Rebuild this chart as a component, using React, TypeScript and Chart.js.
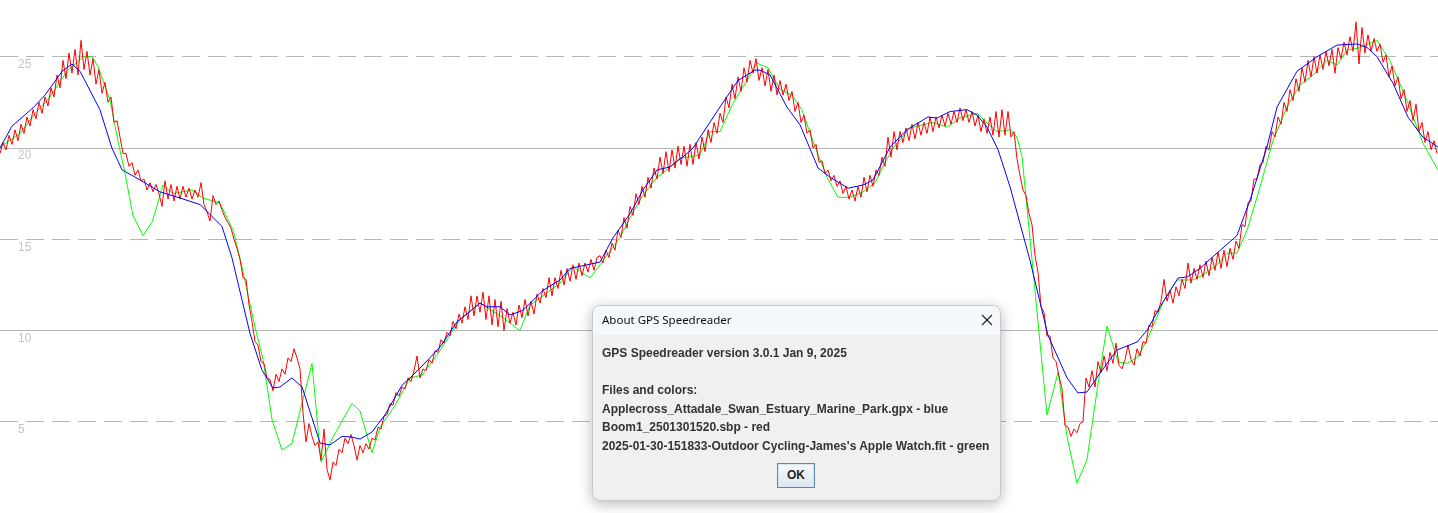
import React, { useEffect, useRef } from "react";
import { Chart, registerables } from "chart.js";

Chart.register(...registerables);

// ---- data -------------------------------------------------------------
// time axis in seconds, speed in knots
const X_MAX = 479.33;
const Y_MIN = 0;
const Y_MAX = 28.11;
const Y_TICKS = [5, 10, 15, 20, 25];

// Applecross_Attadale_Swan_Estuary_Marine_Park.gpx (blue)
const BLUE_T = [
  0, 4, 11, 15, 20.7, 24, 26.7, 33.3, 37.3, 40.7, 46.7, 53.3, 60, 66.7, 74, 77.3,
  83.3, 87.3, 91, 93.3, 97.3, 100.7, 106.7, 110, 114, 117.3, 120, 124, 128.3, 134,
  137.7, 143.3, 146.7, 152.3, 156, 160, 162.3, 166.7, 170, 174.3, 181, 186.7, 190,
  195.7, 200, 204.3, 210, 214.3, 219, 223.3, 229, 231, 240, 246, 251.7, 253.3, 256.7,
  262.3, 266.7, 272.7, 276.7, 282.7, 287.7, 291, 296.7, 302.3, 309.3, 312.3, 316.7,
  322.3, 325.7, 329, 332.7, 336.7, 343.3, 349.3, 355.7, 359.3, 362.3, 366.7, 372.3,
  379, 382.3, 386.7, 392.7, 395.7, 400, 403.3, 412.3, 416.7, 422.3, 425.7, 432.3, 439,
  445.7, 452.3, 455.7, 459, 464.3, 469.3, 474.3, 479.3,
];
const BLUE_V = [
  20.0, 21.2, 22.2, 22.9, 24.2, 24.6, 24.2, 22.1, 20.0, 18.8, 18.25, 17.6, 17.26, 16.9, 15.7, 14.0,
  9.86, 7.84, 6.85, 6.9, 7.4, 6.9, 3.83, 3.73, 4.2, 4.16, 4.05, 4.44, 5.37, 7.0,
  7.56, 8.5, 9.1, 10.47, 10.96, 11.5, 11.3, 11.3, 10.85, 11.1, 12.2, 12.77, 13.4,
  13.6, 13.75, 15.07, 16.4, 17.7, 18.8, 18.96, 19.7, 20.0, 22.25, 23.7, 24.27, 24.27, 24.0,
  22.25, 21.26, 18.9, 18.4, 17.8, 17.97, 18.25, 20.05, 21.0, 21.7, 21.64, 22.0,
  22.1, 21.8, 21.15, 19.9, 17.86, 13.86, 9.75, 7.4, 6.58, 6.63, 7.67, 8.93,
  9.37, 10.0, 11.3, 12.88, 12.93, 13.4, 13.9, 15.2, 17.15, 20.05, 22.25, 24.2, 25.0,
  25.64, 25.7, 25.5, 25.0, 23.56, 21.7, 20.6, 20.05,
];

// Boom1_2501301520.sbp (red) - one sample per second
const RED_V = [
  19.7, 20.3, 19.9, 20.7, 20.2, 21.0, 20.4, 21.3, 20.8, 21.7, 21.2, 22.1, 21.6, 22.5, 21.9, 22.8, 22.3, 23.3, 22.8, 24.0,
  23.3, 24.8, 23.8, 25.2, 24.1, 25.4, 24.0, 25.9, 24.3, 25.3, 24.0, 24.9, 23.5, 24.3, 23.0, 23.6, 22.5, 22.8, 21.4, 21.5,
  20.6, 19.7, 19.7, 19.0, 19.2, 18.5, 18.8, 18.2, 18.3, 17.7, 18.1, 17.6, 18.0, 17.5, 16.8, 18.2, 17.2, 18.0, 17.1, 17.9,
  17.2, 17.9, 17.3, 17.8, 17.2, 17.7, 17.3, 18.1, 16.9, 16.5, 16.0, 17.4, 16.9, 17.1, 16.6, 16.2, 15.9, 15.6, 15.0, 14.5,
  13.9, 12.9, 12.8, 11.4, 10.5, 9.4, 9.2, 8.3, 8.2, 7.4, 7.3, 6.7, 7.6, 7.2, 7.9, 7.6, 8.5, 8.3, 9.0, 8.5,
  7.9, 5.5, 3.9, 4.9, 4.2, 3.7, 3.9, 2.9, 4.6, 2.4, 1.8, 2.8, 2.6, 3.5, 3.3, 4.1, 3.8, 4.3, 3.7, 2.9,
  3.7, 3.3, 3.8, 3.5, 4.1, 4.0, 4.7, 4.6, 5.3, 5.4, 6.0, 5.9, 6.6, 6.4, 6.9, 6.8, 7.4, 7.2, 7.8, 8.6,
  7.4, 7.9, 7.8, 8.4, 8.2, 8.9, 8.8, 9.5, 9.3, 9.9, 9.7, 10.5, 10.1, 10.9, 10.4, 11.3, 10.6, 11.9, 10.8, 11.9,
  11.0, 12.1, 10.6, 11.9, 10.3, 11.7, 10.2, 11.6, 10.0, 11.2, 10.4, 11.0, 10.3, 11.4, 10.7, 11.7, 10.8, 11.6, 10.9, 12.0,
  11.5, 12.3, 11.8, 12.9, 11.9, 12.9, 12.3, 13.3, 12.5, 13.4, 12.7, 13.6, 12.8, 13.7, 13.0, 13.7, 13.2, 13.9, 13.3, 14.0,
  14.1, 13.7, 14.4, 14.0, 14.8, 14.4, 15.5, 15.1, 16.2, 15.6, 16.8, 16.3, 17.5, 16.9, 17.9, 17.3, 18.4, 17.8, 18.9, 18.3,
  19.5, 18.6, 19.8, 18.7, 19.9, 18.9, 20.1, 19.1, 20.1, 19.0, 20.2, 19.1, 20.3, 19.4, 20.6, 19.8, 21.0, 20.3, 21.4, 20.8,
  21.9, 21.4, 22.8, 22.2, 23.5, 22.7, 23.9, 23.1, 24.4, 23.6, 24.8, 24.1, 24.9, 23.7, 24.4, 23.4, 24.3, 23.1, 24.0, 22.9,
  23.7, 22.9, 23.5, 22.6, 23.1, 22.0, 22.5, 21.4, 21.8, 20.8, 21.0, 20.0, 20.2, 19.2, 19.3, 18.6, 18.8, 18.2, 18.5, 17.9,
  18.2, 17.5, 17.9, 17.2, 17.7, 17.1, 17.9, 17.3, 18.4, 17.6, 18.5, 17.9, 18.8, 18.5, 19.5, 19.0, 20.6, 19.5, 20.9, 19.9,
  20.9, 20.3, 21.1, 20.4, 21.3, 20.5, 21.4, 20.7, 21.4, 20.8, 21.7, 20.9, 21.7, 21.1, 21.8, 21.2, 21.9, 21.3, 22.0, 21.4,
  22.2, 21.5, 22.1, 21.4, 22.0, 21.2, 21.8, 20.9, 21.6, 20.8, 21.7, 20.7, 22.0, 20.6, 22.1, 20.7, 22.0, 20.6, 20.9, 19.4,
  18.5, 17.7, 17.4, 16.4, 15.8, 14.1, 13.2, 11.3, 11.0, 9.7, 9.7, 8.5, 8.3, 7.5, 6.8, 4.8, 4.7, 4.2, 4.6, 4.4,
  4.9, 5.0, 7.4, 6.9, 7.8, 6.9, 8.3, 7.7, 8.6, 7.8, 8.8, 8.2, 9.3, 8.1, 7.9, 8.4, 9.2, 8.4, 8.1, 9.0,
  8.6, 9.4, 9.3, 10.3, 10.2, 11.1, 11.0, 11.6, 12.8, 11.6, 12.2, 11.5, 12.4, 11.9, 12.8, 12.3, 13.7, 12.6, 13.4, 12.8,
  13.6, 12.9, 13.8, 13.0, 14.0, 13.3, 14.3, 13.4, 14.4, 13.5, 14.5, 13.9, 14.9, 14.5, 15.8, 15.7, 17.0, 17.1, 18.3, 18.3,
  19.1, 19.2, 20.1, 19.9, 20.9, 20.6, 21.7, 21.3, 22.5, 22.0, 23.2, 22.6, 23.8, 23.1, 24.4, 23.6, 24.8, 23.9, 25.0, 24.1,
  25.1, 24.3, 25.3, 24.5, 25.4, 24.1, 25.5, 24.9, 25.8, 25.1, 26.1, 25.3, 26.9, 24.6, 26.6, 25.2, 26.2, 25.3, 26.0, 25.3,
  25.7, 24.7, 25.1, 23.9, 24.5, 23.4, 23.9, 22.7, 23.2, 22.0, 22.6, 21.5, 22.4, 20.9, 21.4, 20.3, 20.9, 19.9, 20.4, 19.7,
];

// 2025-01-30-151833-Outdoor Cycling-James's Apple Watch.fit (green)
const GREEN_T = [
  0, 6.7, 11.7, 16.7, 22.3, 25.7, 27.7, 30.7, 32.7, 36.7, 39.3, 41.7, 44.3, 47.7, 50.7,
  52.3, 54.3, 57.7, 64, 67.7, 73.3, 77.7, 80, 85, 87.7, 90.7, 94, 97.3, 104, 107, 111,
  117.3, 120, 124, 126.7, 131.7, 136.7, 140.7, 145.7, 150, 153.3, 160, 167.7, 173.3,
  176.7, 182.3, 186.7, 191, 196.7, 200, 206.7, 210, 214.3, 219, 222.3, 226.7, 233.3,
  236.7, 240, 244.3, 249, 252.3, 256, 260, 264, 267.3, 271.7, 275.7, 279.3, 283.3,
  287.7, 291.7, 295, 297.7, 303.3, 311, 315.7, 320, 325.7, 329, 332.3, 336.7, 339,
  340.7, 349, 352.7, 355.7, 359, 362.3, 365.7, 369, 372.7, 375.7, 379.3, 382.7, 387.7,
  392.3, 397.7, 401, 405.7, 409, 412.3, 415.7, 420, 424.3, 429, 433.3, 437.7, 442.3,
  445.7, 449, 453.3, 459, 463.3, 469, 474.3, 479.3,
];
const GREEN_V = [
  20.05, 20.8, 21.9, 22.8, 24.2, 24.7, 25.0, 25.0, 24.45, 22.6, 20.4, 18.6, 16.3, 15.2, 15.95,
  16.8, 17.97, 17.5, 17.7, 17.26, 16.98, 15.5, 13.97, 10.2, 8.4, 5.1, 3.45, 3.8, 8.2, 2.8, 4.16,
  6.0, 5.6, 3.3, 4.7, 5.9, 7.4, 7.56, 8.66, 9.75, 10.6, 11.5, 10.7, 10.0,
  11.4, 12.05, 12.6, 13.5, 12.88, 13.6, 15.1, 16.2, 17.4, 18.4, 18.8, 19.45, 19.6,
  20.9, 20.9, 22.45, 23.7, 24.65, 24.4, 23.2, 22.9, 22.1, 20.05, 18.4, 17.3, 17.3,
  17.6, 18.1, 19.2, 20.0, 21.1, 21.4, 21.15, 21.64, 21.9, 21.37, 20.9, 21.0, 20.6,
  19.5, 5.37, 7.73, 4.16, 1.64, 2.9, 6.74, 10.25, 8.27, 8.2, 8.55, 9.6, 11.56,
  12.77, 12.77, 13.04, 13.6, 14.24, 14.24, 15.5, 17.86, 20.4, 22.25, 23.45, 24.0, 24.8,
  24.55, 25.36, 25.5, 25.9, 24.8, 22.6, 20.27, 18.8,
];

const FILE_LINES = [
  "Applecross_Attadale_Swan_Estuary_Marine_Park.gpx - blue",
  "Boom1_2501301520.sbp - red",
  "2025-01-30-151833-Outdoor Cycling-James's Apple Watch.fit - green",
];

const pairs = (t: number[], v: number[]) => t.map((x, i) => ({ x, y: v[i] }));

function AboutDialog() {
  const bodyFont = '"Liberation Sans", Arial, sans-serif';
  return (
    <div
      style={{
        position: "absolute",
        left: 592,
        top: 305,
        width: 409,
        height: 196,
        boxSizing: "border-box",
        border: "1px solid #c9c9c9",
        borderRadius: 8,
        background: "#f0f0f0",
        boxShadow: "0 3px 14px rgba(0,0,0,0.28)",
        overflow: "hidden",
        fontFamily: bodyFont,
      }}
    >
      <div style={{ position: "absolute", left: 0, top: 0, right: 0, height: 29, background: "#f4f7fb" }}>
        <div
          style={{
            position: "absolute",
            left: 9,
            top: 6,
            fontFamily: '"Noto Sans", sans-serif',
            fontSize: 11.5,
            lineHeight: "16px",
            color: "#111",
            whiteSpace: "nowrap",
          }}
        >
          About GPS Speedreader
        </div>
        <svg width="12" height="12" style={{ position: "absolute", left: 388, top: 8 }}>
          <line x1="1" y1="1" x2="11" y2="11" stroke="#222" strokeWidth="1.1" />
          <line x1="11" y1="1" x2="1" y2="11" stroke="#222" strokeWidth="1.1" />
        </svg>
      </div>
      <div
        style={{
          position: "absolute",
          left: 9,
          top: 38,
          fontSize: 12,
          fontWeight: "bold",
          lineHeight: "18.5px",
          color: "#333",
          whiteSpace: "nowrap",
        }}
      >
        <div>GPS Speedreader version 3.0.1 Jan 9, 2025</div>
        <div>&nbsp;</div>
        <div>Files and colors:</div>
        {FILE_LINES.map((l) => (
          <div key={l}>{l}</div>
        ))}
      </div>
      <div
        style={{
          position: "absolute",
          left: 184,
          top: 157,
          width: 38,
          height: 25,
          boxSizing: "border-box",
          border: "1px solid #5f87b3",
          boxShadow: "inset 0 0 0 1px #d6e6f5",
          background: "linear-gradient(#f6f9fc, #dde7f1)",
          fontSize: 12,
          fontWeight: "bold",
          color: "#222",
          textAlign: "center",
          lineHeight: "23px",
        }}
      >
        OK
      </div>
    </div>
  );
}

export default function App() {
  const ref = useRef<HTMLCanvasElement>(null);

  useEffect(() => {
    document.body.style.margin = "0";
    const canvas = ref.current;
    if (!canvas) return;
    const chart = new Chart(canvas, {
      type: "line",
      data: {
        datasets: [
          {
            label: "blue",
            data: pairs(BLUE_T, BLUE_V),
            borderColor: "#0000ff",
            borderWidth: 1,
            pointRadius: 0,
            tension: 0,
          },
          {
            label: "red",
            data: RED_V.map((y, i) => ({ x: i, y })),
            borderColor: "#ff0000",
            borderWidth: 1,
            pointRadius: 0,
            tension: 0,
          },
          {
            label: "green",
            data: pairs(GREEN_T, GREEN_V),
            borderColor: "#00ff00",
            borderWidth: 1,
            pointRadius: 0,
            tension: 0,
          },
        ],
      },
      options: {
        animation: false,
        responsive: false,
        devicePixelRatio: 1,
        layout: { padding: 0 },
        plugins: { legend: { display: false }, tooltip: { enabled: false }, title: { display: false } },
        scales: {
          x: { type: "linear", min: 0, max: X_MAX, display: false },
          y: {
            type: "linear",
            min: Y_MIN,
            max: Y_MAX,
            afterBuildTicks: (scale: any) => {
              scale.ticks = Y_TICKS.map((value) => ({ value }));
            },
            afterFit: (scale: any) => {
              scale.width = 0;
              scale.paddingTop = 0;
              scale.paddingBottom = 0;
              scale.paddingLeft = 0;
              scale.paddingRight = 0;
            },
            ticks: {
              mirror: true,
              padding: 18,
              labelOffset: 8,
              color: "#c4c4c4",
              font: { family: '"Liberation Sans", Arial, sans-serif', size: 12 },
              callback: (v: any) => String(v),
            },
            grid: { drawTicks: false, color: "#b6b6b6", lineWidth: 1 },
            border: {
              display: false,
              dash: (ctx: any) => (ctx.tick && ctx.tick.value % 10 === 0 ? [] : [18, 8]),
            },
          },
        },
      },
    });
    return () => chart.destroy();
  }, []);

  return (
    <div style={{ position: "relative", width: 1438, height: 513, background: "#fff", overflow: "hidden" }}>
      <canvas ref={ref} width={1438} height={513} style={{ display: "block" }} />
      <AboutDialog />
    </div>
  );
}
